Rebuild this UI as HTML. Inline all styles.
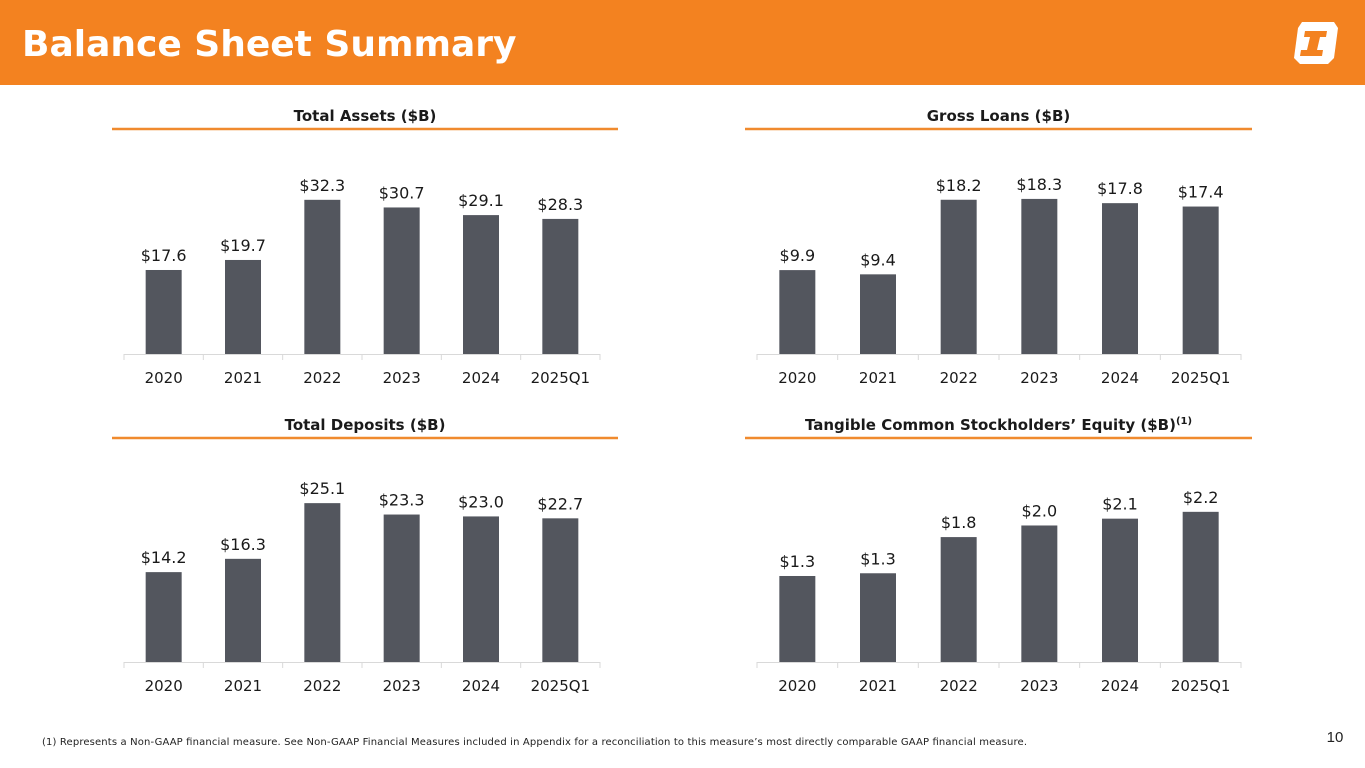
<!DOCTYPE html>
<html><head><meta charset="utf-8">
<style>
html,body{margin:0;padding:0;width:1365px;height:768px;overflow:hidden;background:#fff;font-family:"DejaVu Sans","Liberation Sans",sans-serif;}
#hdr{position:absolute;left:0;top:0;width:1365px;height:85px;background:#F38220;}
#ttl{position:absolute;left:22px;top:24px;color:#fff;font:bold 36px "DejaVu Sans","Liberation Sans",sans-serif;letter-spacing:0px;white-space:nowrap;}
svg{position:absolute;left:0;top:0;}
</style></head>
<body>
<div id="hdr"></div>
<div id="ttl">Balance Sheet Summary</div>
<svg width="1365" height="768" id="chart">
<g>
<path d="M1302 22 L1334 22 L1338 28 L1334 58 L1328 64 L1300 64 L1294 58 L1298 28 Z" fill="#fff"/>
<path d="M1305 31 L1327 31 L1326 37 L1320 37 L1317 50 L1323 50 L1322 56 L1300 56 L1301 50 L1307 50 L1310 37 L1304 37 Z" fill="#F38220"/>
</g>
<text x="1027" y="745" font-size="10" fill="#222" text-anchor="end" font-family="DejaVu Sans, Liberation Sans, sans-serif" textLength="985">(1)    Represents a Non-GAAP financial measure. See Non-GAAP Financial Measures included in Appendix for a reconciliation to this measure’s most directly comparable GAAP financial measure.</text>
<text x="1335" y="742" font-size="15" fill="#222" text-anchor="middle" font-family="Liberation Sans, sans-serif">10</text>
</svg>
<script>
const categories = ["2020","2021","2022","2023","2024","2025Q1"];
const assetsValues = [17.6,19.7,32.3,30.7,29.1,28.3];
const assetsLabels = ["$17.6","$19.7","$32.3","$30.7","$29.1","$28.3"];
const loansValues = [9.9,9.4,18.2,18.3,17.8,17.4];
const loansLabels = ["$9.9","$9.4","$18.2","$18.3","$17.8","$17.4"];
const depositsValues = [14.2,16.3,25.1,23.3,23.0,22.7];
const depositsLabels = ["$14.2","$16.3","$25.1","$23.3","$23.0","$22.7"];
const tceValues = [1.26,1.3,1.83,2.0,2.1,2.2];
const tceLabels = ["$1.3","$1.3","$1.8","$2.0","$2.1","$2.2"];
const axisMax = [41.9, 23.6, 31.6, 2.93];

const svg = document.getElementById('chart');
const NS = 'http://www.w3.org/2000/svg';
function mk(tag, attrs, parent){const e=document.createElementNS(NS,tag);for(const k in attrs)e.setAttribute(k,attrs[k]);(parent||svg).appendChild(e);return e;}

function drawChart(name, title, values, labels, max, x0, x1, base, lineX0, lineX1, lineY, sup){
  const g = mk('g',{});
  
  
  const H = 200;
  const cw = (x1-x0)/categories.length;
  const xs = i => x0 + cw*(i+0.5);
  const ys = v => base - v/max*H;
  const t = mk('text',{x:(lineX0+lineX1)/2,y:lineY-8,'text-anchor':'middle','font-size':15,'font-weight':'bold',fill:'#1a1a1a'},g);
  t.textContent = title;
  if(sup){const s=mk('tspan',{'font-size':10,dy:-6},t);s.textContent=sup;}
  
  
  const ul = mk('line',{x1:lineX0,x2:lineX1,y1:lineY,y2:lineY,stroke:'#F08A2E','stroke-width':2.5},g);
  
  
  const ax = mk('line',{x1:x0,x2:x1,y1:base+0.5,y2:base+0.5,stroke:'#d9d9d9','stroke-width':1},g);
  
  
  for(let i=0;i<=categories.length;i++){
    const tk = mk('line',{x1:x0+cw*i,x2:x0+cw*i,y1:base,y2:base+6,stroke:'#d9d9d9'},g);
    
    
  }
  values.forEach((v,i)=>{
    const bw = 36;
    const r = mk('rect',{x:xs(i)-bw/2,y:ys(v),width:bw,height:base-ys(v),fill:'#53565E'},g);
    
    
    const lb = mk('text',{x:xs(i),y:ys(v)-9,'text-anchor':'middle','font-size':16,fill:'#1a1a1a'},g);
    lb.textContent = labels[i];
    
    
    const cl = mk('text',{x:xs(i),y:base+29,'text-anchor':'middle','font-size':15,fill:'#1a1a1a'},g);
    cl.textContent = categories[i];
    
    
  });
}
drawChart('total-assets-chart','Total Assets ($B)',assetsValues,assetsLabels,axisMax[0],124,600,354,112,618,129,null);
drawChart('gross-loans-chart','Gross Loans ($B)',loansValues,loansLabels,axisMax[1],757,1241,354,745,1252,129,null);
drawChart('total-deposits-chart','Total Deposits ($B)',depositsValues,depositsLabels,axisMax[2],124,600,662,112,618,438,null);
drawChart('tce-chart','Tangible Common Stockholders’ Equity ($B)',tceValues,tceLabels,axisMax[3],757,1241,662,745,1252,438,'(1)');
</script>
</body></html>
